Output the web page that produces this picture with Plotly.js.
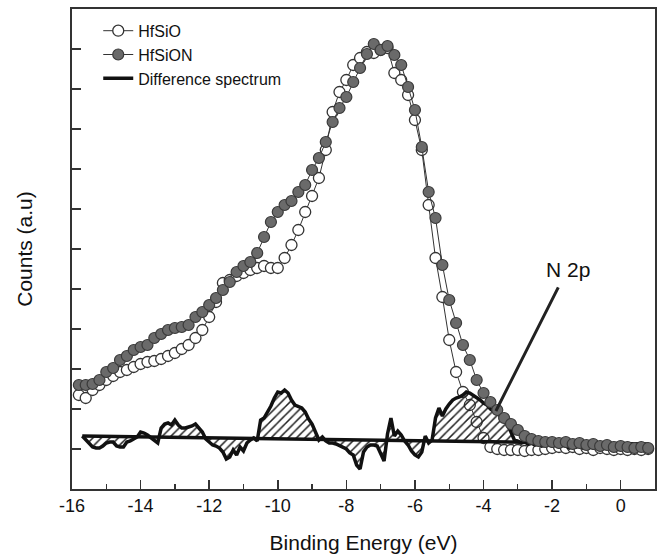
<!DOCTYPE html>
<html>
<head>
<meta charset="utf-8">
<script src="https://cdn.plot.ly/plotly-3.0.1.min.js"></script>
<style>html,body{margin:0;padding:0;background:#fff;}#chart{width:659px;height:556px;}</style>
</head>
<body>
<div id="chart"></div>
<script>
// Binding energies (eV) of the two measured spectra
var energyMarkers = [-15.8,-15.6,-15.4,-15.2,-15.0,-14.8,-14.6,-14.4,-14.2,-14.0,-13.8,-13.6,-13.4,-13.2,-13.0,-12.8,-12.6,-12.4,-12.2,-12.0,-11.8,-11.6,-11.4,-11.2,-11.0,-10.8,-10.6,-10.4,-10.2,-10.0,-9.8,-9.6,-9.4,-9.2,-9.0,-8.8,-8.6,-8.4,-8.2,-8.0,-7.8,-7.6,-7.4,-7.2,-7.0,-6.8,-6.6,-6.4,-6.2,-6.0,-5.8,-5.6,-5.4,-5.2,-5.0,-4.8,-4.6,-4.4,-4.2,-4.0,-3.8,-3.6,-3.4,-3.2,-3.0,-2.8,-2.6,-2.4,-2.2,-2.0,-1.8,-1.6,-1.4,-1.2,-1.0,-0.8,-0.6,-0.4,-0.2,0.0,0.2,0.4,0.6,0.8];

var countsHfSiO = [2.35,2.275,2.475,2.6,2.725,2.825,2.925,2.975,3.05,3.125,3.175,3.2,3.25,3.325,3.4,3.5,3.6,3.775,3.975,4.3,4.675,5.15,5.225,5.325,5.4,5.475,5.525,5.575,5.525,5.525,5.775,6.1,6.475,6.925,7.325,7.775,8.475,9.425,9.925,10.225,10.6,10.775,10.925,10.9,10.975,11.025,10.4,10.225,9.85,9.225,8.475,7.1,5.775,4.8,3.725,2.925,2.425,2.1,1.675,1.275,1.05,1.0,0.975,0.975,0.975,0.95,0.975,0.975,1.0,1.025,1.05,1.025,1.05,1.0,1.025,0.975,1.025,1.0,0.975,1.0,0.975,1.0,0.975,1.0];

var countsHfSiON = [2.6,2.6,2.625,2.725,2.925,3.025,3.225,3.325,3.475,3.55,3.6,3.775,3.875,3.975,4.025,4.05,4.1,4.3,4.425,4.6,4.775,4.975,5.175,5.425,5.575,5.675,5.9,6.3,6.675,6.925,7.1,7.2,7.425,7.6,7.975,8.275,8.675,9.175,9.525,9.8,10.175,10.525,10.875,11.125,10.975,11.075,10.85,10.6,10.05,9.475,8.55,7.425,6.775,5.6,4.725,4.15,3.6,3.225,2.725,2.4,2.175,1.975,1.775,1.625,1.475,1.325,1.25,1.2,1.175,1.175,1.15,1.175,1.125,1.15,1.1,1.125,1.075,1.1,1.05,1.075,1.05,1.025,1.05,1.025];

// Difference spectrum (HfSiON - HfSiO, offset)
var energyDiff = [-15.7,-15.6,-15.5,-15.4,-15.3,-15.2,-15.1,-15.0,-14.9,-14.8,-14.7,-14.6,-14.5,-14.4,-14.3,-14.2,-14.1,-14.0,-13.9,-13.8,-13.7,-13.6,-13.5,-13.4,-13.3,-13.2,-13.1,-13.0,-12.9,-12.8,-12.7,-12.6,-12.5,-12.4,-12.3,-12.2,-12.1,-12.0,-11.9,-11.8,-11.7,-11.6,-11.5,-11.4,-11.3,-11.2,-11.1,-11.0,-10.9,-10.8,-10.7,-10.6,-10.5,-10.4,-10.3,-10.2,-10.1,-10.0,-9.9,-9.8,-9.7,-9.6,-9.5,-9.4,-9.3,-9.2,-9.1,-9.0,-8.9,-8.8,-8.7,-8.6,-8.5,-8.4,-8.3,-8.2,-8.1,-8.0,-7.9,-7.8,-7.7,-7.6,-7.5,-7.4,-7.3,-7.2,-7.1,-7.0,-6.9,-6.8,-6.7,-6.6,-6.5,-6.4,-6.3,-6.2,-6.1,-6.0,-5.9,-5.8,-5.7,-5.6,-5.5,-5.4,-5.3,-5.2,-5.1,-5.0,-4.9,-4.8,-4.7,-4.6,-4.5,-4.4,-4.3,-4.2,-4.1,-4.0,-3.9,-3.8,-3.7,-3.6,-3.5,-3.4,-3.3,-3.2,-3.1,-3.0,-2.9,-2.8,-2.7,-2.6,-2.5,-2.4,-2.3,-2.2,-2.1,-2.0,-1.9,-1.8,-1.7,-1.6,-1.5,-1.4,-1.3,-1.2,-1.1,-1.0,-0.9,-0.8,-0.7,-0.6,-0.5,-0.4,-0.3,-0.2,-0.1,0.0,0.1,0.2,0.3,0.4,0.5,0.6,0.7,0.8];

var countsDiff = [1.325,1.225,1.125,1.05,1.025,1.025,1.075,1.15,1.175,1.175,
1.075,1.05,1.05,1.175,1.2,1.25,1.3,1.425,1.4,1.35,
1.275,1.2,1.15,1.525,1.625,1.65,1.6,1.725,1.6,1.525,
1.525,1.55,1.575,1.625,1.525,1.425,1.25,1.175,1.1,1.075,
1.025,0.925,0.75,0.8,0.975,0.85,1.05,0.95,1.15,1.225,
1.275,1.2,1.725,1.775,1.925,2.075,2.275,2.425,2.4,2.475,
2.4,2.225,2.1,2.05,2.025,1.925,1.75,1.625,1.425,1.225,
1.3,1.2,1.15,1.15,1.125,1.075,1.05,1.0,0.9,0.85,
0.6,0.5,0.925,1.05,1.1,1.1,1.075,0.9,0.7,1.375,
1.775,1.325,1.45,1.35,1.2,1.1,0.95,0.85,0.8,0.925,
1.325,1.15,1.225,1.775,2.025,1.825,2.0,2.125,2.225,2.275,
2.3,2.35,2.425,2.4,2.35,2.275,2.225,2.15,2.1,2.0,
1.95,1.9,1.825,1.725,1.625,1.425,1.225,1.2,1.15,1.175,
1.125,1.15,1.1,1.15,1.075,1.1,1.125,1.075,1.1,1.05,
1.1,1.075,1.025,1.075,1.05,1.1,1.025,1.05,1.075,1.025,
1.05,1.0,1.05,1.025,1.075,1.025,1.0,1.05,1.025,1.0,
1.05,1.025,1.0,1.025,1.05,1.025];

// Baseline of the difference spectrum
var energyBase = [-15.7, 0.8];
var countsBase = [1.325, 1.125];

var xTickVals = [-16,-14,-12,-10,-8,-6,-4,-2,0];
var xTickText = ['-16','-14','-12','-10','-8','-6','-4','-2','0'];

var FONT = 'Liberation Sans, Arial, sans-serif';
var INK = '#111111';

var traces = [
  {
    x: energyMarkers, y: countsHfSiO, name: 'HfSiO', type: 'scatter', mode: 'lines+markers',
    line: {color: '#333', width: 1},
    marker: {symbol: 'circle', size: 11, color: '#ffffff', line: {color: '#333', width: 1.3}},
    legendrank: 1
  },
  {
    x: energyBase, y: countsBase, type: 'scatter', mode: 'lines', showlegend: false, hoverinfo: 'skip',
    line: {color: '#111', width: 3.5}
  },
  {
    x: energyDiff, y: countsDiff, type: 'scatter', mode: 'lines', showlegend: false, hoverinfo: 'skip',
    line: {width: 0, color: 'rgba(0,0,0,0)'},
    fill: 'tonexty', fillcolor: 'rgba(0,0,0,0)',
    fillpattern: {shape: '/', fgcolor: '#222', bgcolor: 'rgba(255,255,255,0)', size: 6, solidity: 0.25}
  },
  {
    x: energyDiff, y: countsDiff, name: 'Difference spectrum', type: 'scatter', mode: 'lines',
    line: {color: '#111', width: 3.5},
    legendrank: 3
  },
  {
    x: energyMarkers, y: countsHfSiON, name: 'HfSiON', type: 'scatter', mode: 'lines+markers',
    line: {color: '#333', width: 1},
    marker: {symbol: 'circle', size: 11, color: '#6a6a6a', line: {color: '#3a3a3a', width: 1.2}},
    legendrank: 2
  }
];

var layout = {
  width: 659, height: 556,
  margin: {l: 72, r: 4, t: 9, b: 67},
  paper_bgcolor: '#ffffff', plot_bgcolor: '#ffffff',
  font: {family: FONT, color: INK},
  showlegend: true,
  legend: {
    x: 0.045, y: 0.99, xanchor: 'left', yanchor: 'top',
    bgcolor: 'rgba(0,0,0,0)', borderwidth: 0,
    font: {family: FONT, size: 16, color: INK},
    traceorder: 'normal', itemwidth: 30, tracegroupgap: 0
  },
  xaxis: {
    range: [-16, 1.0],
    tickmode: 'array', tickvals: xTickVals, ticktext: xTickText,
    ticks: 'inside', ticklen: 9, tickwidth: 1.5, tickcolor: '#333',
    minor: {dtick: 1, tick0: 0, ticks: 'inside', ticklen: 5, tickwidth: 1.3, tickcolor: '#333', showgrid: false},
    showline: true, linecolor: '#333', linewidth: 1.6, mirror: true,
    showgrid: false, zeroline: false,
    tickfont: {family: FONT, size: 18, color: INK},
    title: {text: 'Binding Energy (eV)', font: {family: FONT, size: 21, color: INK}, standoff: 20}
  },
  yaxis: {
    range: [0, 12], dtick: 1, tick0: 0,
    ticks: 'inside', ticklen: 9, tickwidth: 1.5, tickcolor: '#333',
    showticklabels: false,
    showline: true, linecolor: '#333', linewidth: 1.6, mirror: true,
    showgrid: false, zeroline: false,
    title: {text: 'Counts (a.u)', font: {family: FONT, size: 21, color: INK}, standoff: 32}
  },
  annotations: [
    {
      x: -3.64, y: 1.95, xref: 'x', yref: 'y',
      ax: -1.55, ay: 5.5, axref: 'x', ayref: 'y',
      text: 'N 2p', showarrow: true, arrowhead: 0, arrowwidth: 3, arrowcolor: '#222',
      startstandoff: 6,
      font: {family: FONT, size: 21, color: INK}
    }
  ]
};

Plotly.newPlot('chart', traces, layout, {displayModeBar: false, staticPlot: true});
</script>
</body>
</html>
